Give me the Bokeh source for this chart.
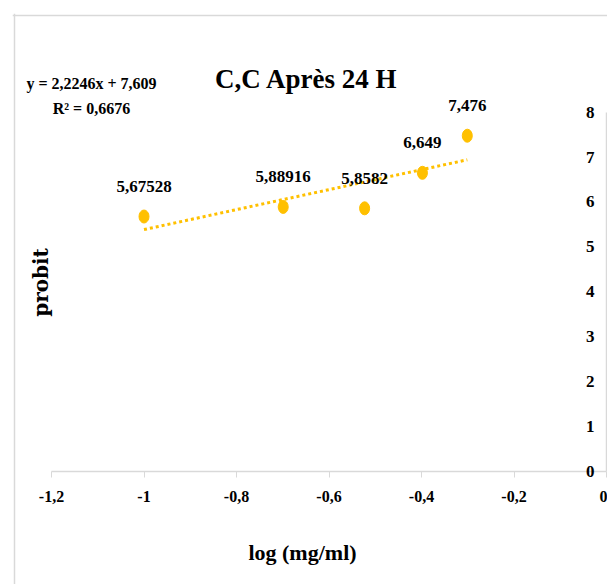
import math
from bokeh.plotting import figure
from bokeh.models import (Range1d, LinearAxis, FixedTicker, CustomJSTickFormatter,
                          Label, ColumnDataSource, Span)
from bokeh.embed import file_html
from bokeh.resources import INLINE
from bokeh.core.properties import value

# ---- data ----
log_conc = [-1.0, -0.699, -0.523, -0.398, -0.301]
probit = [5.67528, 5.88916, 5.8582, 6.649, 7.476]
point_labels = ["5,67528", "5,88916", "5,8582", "6,649", "7,476"]
slope = 2.2246
intercept = 7.609
x_ticks = [-1.2, -1.0, -0.8, -0.6, -0.4, -0.2, 0.0]
x_tick_labels = ["-1,2", "-1", "-0,8", "-0,6", "-0,4", "-0,2", "0"]
y_ticks = [0, 1, 2, 3, 4, 5, 6, 7, 8]
y_tick_labels = ["0", "1", "2", "3", "4", "5", "6", "7", "8"]
title_text = "C,C Après 24 H"
equation_text = "y = 2,2246x + 7,609"
r2_text = "R² = 0,6676"
x_label = "log (mg/ml)"
y_label = "probit"

# ---- layout ----
W, H = 607, 584
FL, FT = 12, 13
X0, X1 = -1.2 - (51 - FL) / 462.5, 1.0 / 462.5
Y0, Y1 = -(H - 470.7) / 44.875, (470.7 - FT) / 44.875
FONT = "Liberation Serif"
ORANGE = "#FFC000"
GRAY = "#d9d9d9"


def dx(px):
    return X0 + (px - FL) / (W - FL) * (X1 - X0)


def dy(py):
    return Y1 - (py - FT) / (H - FT) * (Y1 - Y0)


p = figure(width=W, height=H, x_range=Range1d(X0, X1), y_range=Range1d(Y0, Y1),
           output_backend="svg", toolbar_location=None, title=None,
           x_axis_type=None, y_axis_type=None,
           min_border_left=FL, min_border_top=FT, min_border_right=0,
           min_border_bottom=0)
p.background_fill_color = "white"
p.border_fill_color = "white"
p.outline_line_color = None

# chart-area border (left and top edges visible in the reference)
p.add_layout(Span(location=dx(14), dimension="height", line_color=GRAY, line_width=1.5))
p.add_layout(Span(location=dy(15), dimension="width", line_color=GRAY, line_width=1.5))

# x axis at y = 0
xfmt = CustomJSTickFormatter(args=dict(vals=x_ticks, labs=x_tick_labels), code="""
for (let i = 0; i < vals.length; i++) { if (Math.abs(vals[i] - tick) < 1e-6) return labs[i]; }
return String(tick);
""")
xaxis = LinearAxis(fixed_location=0, bounds=(x_ticks[0], x_ticks[-1]),
                   ticker=FixedTicker(ticks=x_ticks), formatter=xfmt)
xaxis.axis_line_color = GRAY
xaxis.axis_line_width = 1.5
xaxis.major_tick_line_color = GRAY
xaxis.major_tick_out = 6
xaxis.major_tick_in = 0
xaxis.minor_tick_line_color = None
xaxis.major_label_standoff = 14
xaxis.major_label_text_font = FONT
xaxis.major_label_text_font_style = "bold"
xaxis.major_label_text_font_size = "16px"
xaxis.major_label_text_color = "black"
p.add_layout(xaxis, "below")

# y axis at x = 0, labels on its left
yfmt = CustomJSTickFormatter(args=dict(vals=y_ticks, labs=y_tick_labels), code="""
for (let i = 0; i < vals.length; i++) { if (Math.abs(vals[i] - tick) < 1e-6) return labs[i]; }
return String(tick);
""")
yaxis = LinearAxis(fixed_location=0, bounds=(y_ticks[0], y_ticks[-1]),
                   ticker=FixedTicker(ticks=y_ticks), formatter=yfmt)
yaxis.axis_line_color = GRAY
yaxis.axis_line_width = 1.5
yaxis.major_tick_line_color = None
yaxis.major_tick_out = 0
yaxis.major_tick_in = 0
yaxis.minor_tick_line_color = None
yaxis.major_label_standoff = 12
yaxis.major_label_text_font = FONT
yaxis.major_label_text_font_style = "bold"
yaxis.major_label_text_font_size = "17px"
yaxis.major_label_text_color = "black"
p.add_layout(yaxis, "left")

# trend line from fitted equation
tx = [min(log_conc), max(log_conc)]
ty = [slope * v + intercept for v in tx]
p.line(tx, ty, line_color=ORANGE, line_width=3, line_dash="3 3")

src = ColumnDataSource(dict(x=log_conc, y=probit, lab=point_labels))
p.ellipse(x="x", y="y", width=10, height=13, width_units="screen",
          height_units="screen", fill_color=ORANGE, line_color=ORANGE, source=src)
p.text(x="x", y="y", text="lab", y_offset=-30, text_align="center",
       text_baseline="middle", text_font=value(FONT), text_font_style="bold",
       text_font_size="17px", text_color="black", source=src)


def add_label(txt, px, py, size, angle=0.0, font=FONT):
    p.add_layout(Label(x=dx(px), y=dy(py), text=txt, text_align="center",
                       text_baseline="middle", text_font=font,
                       text_font_style="bold", text_font_size=size,
                       text_color="black", angle=angle))


add_label(title_text, 306, 78, "27px")
add_label(equation_text, 91, 83, "16px")
add_label(r2_text, 91, 108, "16px")
add_label(x_label, 302, 552, "22px")
add_label(y_label, 40, 282, "20px", angle=math.pi / 2, font="DejaVu Serif")

open("out.html", "w").write(file_html(p, INLINE))
